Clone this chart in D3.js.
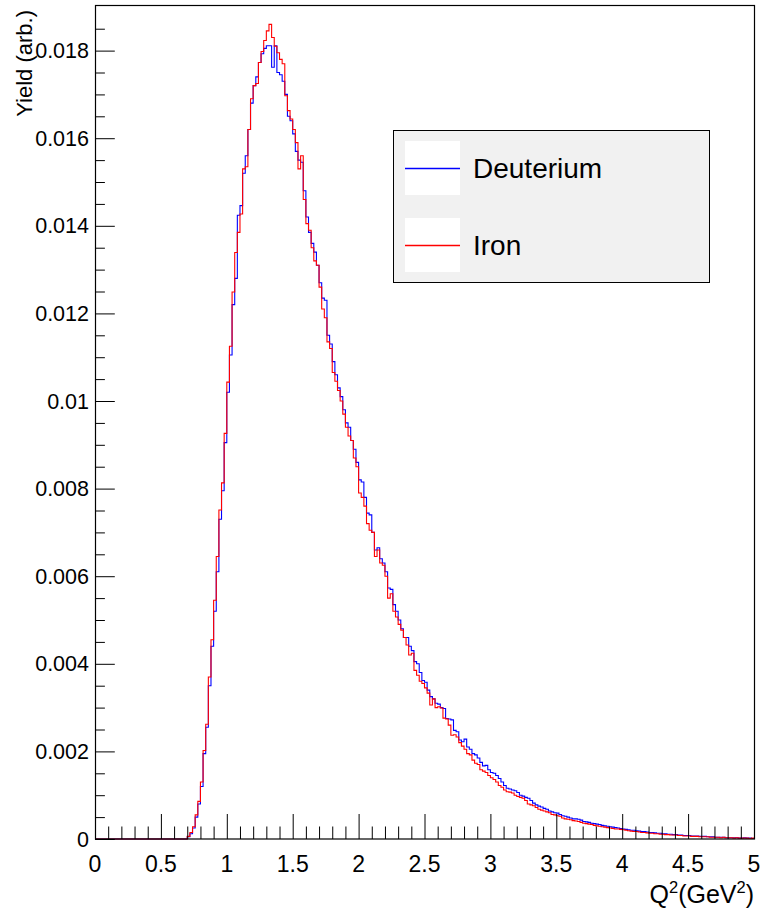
<!DOCTYPE html>
<html>
<head>
<meta charset="utf-8">
<script src="https://cdn.jsdelivr.net/npm/d3@7"></script>
<style>
  html, body { margin: 0; padding: 0; background: #fff; }
  svg { display: block; font-family: "Liberation Sans", Arial, Helvetica, sans-serif; }
</style>
</head>
<body>
<svg id="chart" width="763" height="915"></svg>
<script>
// Q^2 yield histograms, 250 bins of width 0.02 GeV^2 starting at 0
const binLow = 0;
const binWidth = 0.02;

const deuterium = [
  0, 0, 0, 0, 0, 0, 0, 0, 0, 0,
  0, 0, 0, 0, 0, 0, 0, 0, 0, 0,
  0, 0, 0, 0, 0, 0, 0, 0, 0, 0,
  0, 0, 0, 0, 0, 0.00005, 0.00012, 0.00025, 0.00050, 0.00080,
  0.00120, 0.00195, 0.00255, 0.00350, 0.00440, 0.00520, 0.00610, 0.00730, 0.00795, 0.00905,
  0.01020, 0.01105, 0.01220, 0.01280, 0.01424, 0.01446, 0.01520, 0.01560, 0.01620, 0.01680,
  0.01720, 0.01740, 0.01773, 0.01793, 0.01805, 0.01811, 0.01811, 0.01762, 0.01811, 0.01750,
  0.01745, 0.01730, 0.01700, 0.01650, 0.01640, 0.01610, 0.01570, 0.01550, 0.01545, 0.01480,
  0.01420, 0.01385, 0.01360, 0.01340, 0.01310, 0.01270, 0.01235, 0.01230, 0.01150, 0.01130,
  0.01090, 0.01060, 0.01030, 0.01010, 0.00980, 0.00950, 0.00940, 0.00910, 0.00890, 0.00860,
  0.00820, 0.00815, 0.00780, 0.00744, 0.00740, 0.00700, 0.00660, 0.00665, 0.00640, 0.00630,
  0.00610, 0.00573, 0.00570, 0.00535, 0.00520, 0.00500, 0.00480, 0.00460, 0.00460, 0.00440,
  0.00430, 0.00405, 0.00400, 0.00380, 0.00362, 0.00358, 0.00340, 0.00325, 0.00320, 0.00310,
  0.00308, 0.00300, 0.00298, 0.00275, 0.00274, 0.00272, 0.00248, 0.00245, 0.00226, 0.00222,
  0.00228, 0.00210, 0.00205, 0.00195, 0.00192, 0.00185, 0.00175, 0.00167, 0.00168, 0.00158,
  0.00152, 0.00150, 0.00145, 0.00138, 0.00130, 0.00122, 0.00116, 0.00114, 0.00112, 0.00110,
  0.00106, 0.00100, 0.00098, 0.00095, 0.00093, 0.00088, 0.00082, 0.00078, 0.00075, 0.00073,
  0.00070, 0.00068, 0.00064, 0.00062, 0.00060, 0.00059, 0.00056, 0.00053, 0.00052, 0.00050,
  0.00048, 0.00046, 0.00046, 0.00045, 0.00043, 0.00040, 0.00039, 0.00038, 0.00036, 0.00035,
  0.00034, 0.00033, 0.00031, 0.00030, 0.00029, 0.00028, 0.00027, 0.00026, 0.00025, 0.00024,
  0.00023, 0.00022, 0.00021, 0.00020, 0.00020, 0.00019, 0.00018, 0.00017, 0.00017, 0.00016,
  0.00015, 0.00015, 0.00014, 0.00013, 0.00013, 0.00012, 0.00012, 0.00011, 0.00011, 0.00010,
  0.00010, 0.00009, 0.00009, 0.00008, 0.00008, 0.00008, 0.00007, 0.00007, 0.00007, 0.00006,
  0.00006, 0.00006, 0.00005, 0.00005, 0.00005, 0.00004, 0.00004, 0.00004, 0.00004, 0.00003,
  0.00003, 0.00003, 0.00003, 0.00003, 0.00002, 0.00002, 0.00003, 0.00002, 0.00002, 0.00001
];

const iron = [
  0, 0, 0, 0, 0, 0, 0, 0, 0, 0,
  0, 0, 0, 0, 0, 0, 0, 0, 0, 0,
  0, 0, 0, 0, 0, 0, 0, 0, 0, 0,
  0, 0, 0, 0, 0, 0.00006, 0.00015, 0.00028, 0.00055, 0.00086,
  0.00130, 0.00202, 0.00262, 0.00370, 0.00455, 0.00545, 0.00645, 0.00751, 0.00813, 0.00926,
  0.01043, 0.01125, 0.01249, 0.01339, 0.01385, 0.01427, 0.01530, 0.01535, 0.01620, 0.01690,
  0.01720, 0.01725, 0.01773, 0.01798, 0.01823, 0.01845, 0.01860, 0.01830, 0.01810, 0.01795,
  0.01780, 0.01770, 0.01697, 0.01663, 0.01644, 0.01620, 0.01590, 0.01530, 0.01560, 0.01460,
  0.01405, 0.01390, 0.01350, 0.01320, 0.01310, 0.01260, 0.01210, 0.01190, 0.01135, 0.01120,
  0.01065, 0.01045, 0.01024, 0.01000, 0.00970, 0.00940, 0.00920, 0.00910, 0.00870, 0.00850,
  0.00790, 0.00780, 0.00760, 0.00720, 0.00705, 0.00700, 0.00645, 0.00660, 0.00630, 0.00625,
  0.00600, 0.00550, 0.00560, 0.00520, 0.00507, 0.00490, 0.00477, 0.00460, 0.00443, 0.00420,
  0.00424, 0.00385, 0.00374, 0.00360, 0.00355, 0.00345, 0.00333, 0.00306, 0.00320, 0.00300,
  0.00302, 0.00299, 0.00276, 0.00274, 0.00260, 0.00237, 0.00238, 0.00233, 0.00220, 0.00212,
  0.00205, 0.00195, 0.00192, 0.00180, 0.00173, 0.00170, 0.00158, 0.00155, 0.00152, 0.00145,
  0.00140, 0.00136, 0.00130, 0.00122, 0.00118, 0.00112, 0.00108, 0.00107, 0.00105, 0.00100,
  0.00097, 0.00095, 0.00093, 0.00088, 0.00080, 0.00078, 0.00076, 0.00072, 0.00068, 0.00066,
  0.00064, 0.00062, 0.00060, 0.00056, 0.00055, 0.00053, 0.00052, 0.00048, 0.00046, 0.00045,
  0.00044, 0.00042, 0.00041, 0.00040, 0.00038, 0.00036, 0.00035, 0.00034, 0.00033, 0.00031,
  0.00030, 0.00029, 0.00028, 0.00027, 0.00026, 0.00025, 0.00024, 0.00023, 0.00023, 0.00022,
  0.00021, 0.00020, 0.00019, 0.00018, 0.00017, 0.00017, 0.00016, 0.00015, 0.00015, 0.00014,
  0.00013, 0.00013, 0.00012, 0.00012, 0.00011, 0.00011, 0.00010, 0.00010, 0.00009, 0.00009,
  0.00009, 0.00008, 0.00008, 0.00007, 0.00007, 0.00007, 0.00006, 0.00006, 0.00006, 0.00005,
  0.00005, 0.00005, 0.00005, 0.00004, 0.00004, 0.00004, 0.00004, 0.00003, 0.00004, 0.00003,
  0.00003, 0.00003, 0.00002, 0.00003, 0.00002, 0.00002, 0.00002, 0.00002, 0.00001, 0.00002
];

const seriesNames = ["Deuterium", "Iron"];
const seriesColors = ["#0000ff", "#ff0000"];

const xMajorTicks = [0, 0.5, 1, 1.5, 2, 2.5, 3, 3.5, 4, 4.5, 5];
const xTickLabels = ["0", "0.5", "1", "1.5", "2", "2.5", "3", "3.5", "4", "4.5", "5"];
const xMinorTicks = [0.1, 0.2, 0.3, 0.4, 0.6, 0.7, 0.8, 0.9, 1.1, 1.2, 1.3, 1.4, 1.6, 1.7, 1.8, 1.9,
  2.1, 2.2, 2.3, 2.4, 2.6, 2.7, 2.8, 2.9, 3.1, 3.2, 3.3, 3.4, 3.6, 3.7, 3.8, 3.9,
  4.1, 4.2, 4.3, 4.4, 4.6, 4.7, 4.8, 4.9];
const yMajorTicks = [0, 0.002, 0.004, 0.006, 0.008, 0.01, 0.012, 0.014, 0.016, 0.018];
const yTickLabels = ["0", "0.002", "0.004", "0.006", "0.008", "0.01", "0.012", "0.014", "0.016", "0.018"];
const yMinorTicks = [0.0005, 0.001, 0.0015, 0.0025, 0.003, 0.0035, 0.0045, 0.005, 0.0055,
  0.0065, 0.007, 0.0075, 0.0085, 0.009, 0.0095, 0.0105, 0.011, 0.0115, 0.0125, 0.013, 0.0135,
  0.0145, 0.015, 0.0155, 0.0165, 0.017, 0.0175, 0.0185];

const xRange = [0, 5];
const yRange = [0, 0.01903];

// ---- layout ----
const frame = { left: 95, right: 754, top: 5.5, bottom: 839 };
const svg = d3.select("#chart");

const x = d3.scaleLinear().domain(xRange).range([frame.left, frame.right]);
const y = d3.scaleLinear().domain(yRange).range([frame.bottom, frame.top]);

// ---- histograms (step outlines) ----
const stepLine = d3.line()
  .x(d => x(d[0]))
  .y(d => y(d[1]))
  .curve(d3.curveStepAfter);

function histPoints(values) {
  const pts = values.map((v, i) => [binLow + i * binWidth, v]);
  pts.push([binLow + values.length * binWidth, values[values.length - 1]]);
  return pts;
}

const series = [deuterium, iron];
svg.append("g").attr("class", "histograms")
  .selectAll("path")
  .data(series)
  .join("path")
  .attr("d", d => stepLine(histPoints(d)))
  .attr("fill", "none")
  .attr("stroke", (d, i) => seriesColors[i])
  .attr("stroke-width", 1.1);

// ---- axes: ticks drawn inward ----
const tickLenX = 25, tickLenY = 19.8;

function styleTicks(g) {
  g.select(".domain").remove();
  g.selectAll(".tick line").attr("stroke", "#000").attr("stroke-width", 1);
  g.selectAll(".tick text").remove();
}

svg.append("g")
  .attr("transform", `translate(0,${frame.bottom})`)
  .call(d3.axisTop(x).tickValues(xMajorTicks).tickSize(tickLenX).tickFormat(""))
  .call(styleTicks);
svg.append("g")
  .attr("transform", `translate(0,${frame.bottom})`)
  .call(d3.axisTop(x).tickValues(xMinorTicks).tickSize(tickLenX / 2).tickFormat(""))
  .call(styleTicks);

svg.append("g")
  .attr("transform", `translate(${frame.left},0)`)
  .call(d3.axisRight(y).tickValues(yMajorTicks).tickSize(tickLenY).tickFormat(""))
  .call(styleTicks);
svg.append("g")
  .attr("transform", `translate(${frame.left},0)`)
  .call(d3.axisRight(y).tickValues(yMinorTicks).tickSize(tickLenY / 2).tickFormat(""))
  .call(styleTicks);

// ---- frame ----
svg.append("rect")
  .attr("x", frame.left + 0.5)
  .attr("y", frame.top)
  .attr("width", frame.right - frame.left)
  .attr("height", frame.bottom - frame.top)
  .attr("fill", "none")
  .attr("stroke", "#000")
  .attr("stroke-width", 1.2);

// ---- tick labels ----
svg.append("g").selectAll("text")
  .data(xMajorTicks)
  .join("text")
  .attr("x", d => x(d))
  .attr("y", 872)
  .attr("text-anchor", "middle")
  .attr("font-size", 23)
  .attr("fill", "#000")
  .text((d, i) => xTickLabels[i]);

svg.append("g").selectAll("text")
  .data(yMajorTicks)
  .join("text")
  .attr("x", 89)
  .attr("y", d => y(d) + 7.5)
  .attr("text-anchor", "end")
  .attr("font-size", 21.5)
  .attr("fill", "#000")
  .text((d, i) => yTickLabels[i]);

// ---- axis titles ----
const xTitle = svg.append("text")
  .attr("x", frame.right)
  .attr("y", 903)
  .attr("text-anchor", "end")
  .attr("font-size", 25)
  .attr("fill", "#000");
xTitle.append("tspan").text("Q");
xTitle.append("tspan").attr("font-size", 16.5).attr("dy", -10).text("2");
xTitle.append("tspan").attr("dy", 10).text("(GeV");
xTitle.append("tspan").attr("font-size", 16.5).attr("dy", -10).text("2");
xTitle.append("tspan").attr("dy", 10).text(")");

svg.append("text")
  .attr("transform", "translate(32,10) rotate(-90)")
  .attr("text-anchor", "end")
  .attr("font-size", 22)
  .attr("fill", "#000")
  .text("Yield (arb.)");

// ---- legend ----
const legend = svg.append("g").attr("class", "legend");
legend.append("rect")
  .attr("x", 393.5).attr("y", 130.5)
  .attr("width", 316).attr("height", 152)
  .attr("fill", "#f1f1f1")
  .attr("stroke", "#000")
  .attr("stroke-width", 1);

const entryY = [168, 245];
seriesNames.forEach((name, i) => {
  const g = legend.append("g").attr("transform", `translate(0,${entryY[i]})`);
  g.append("rect")
    .attr("x", 405).attr("y", -27)
    .attr("width", 55).attr("height", 54)
    .attr("fill", "#fff");
  // colour swatch line, drawn as a thin filled bar
  g.append("rect")
    .attr("x", 405).attr("y", -0.25)
    .attr("width", 55).attr("height", 1.5)
    .attr("fill", seriesColors[i]);
  g.append("text")
    .attr("x", 473)
    .attr("y", 10)
    .attr("font-size", 28)
    .attr("fill", "#000")
    .text(name);
});
</script>
</body>
</html>
